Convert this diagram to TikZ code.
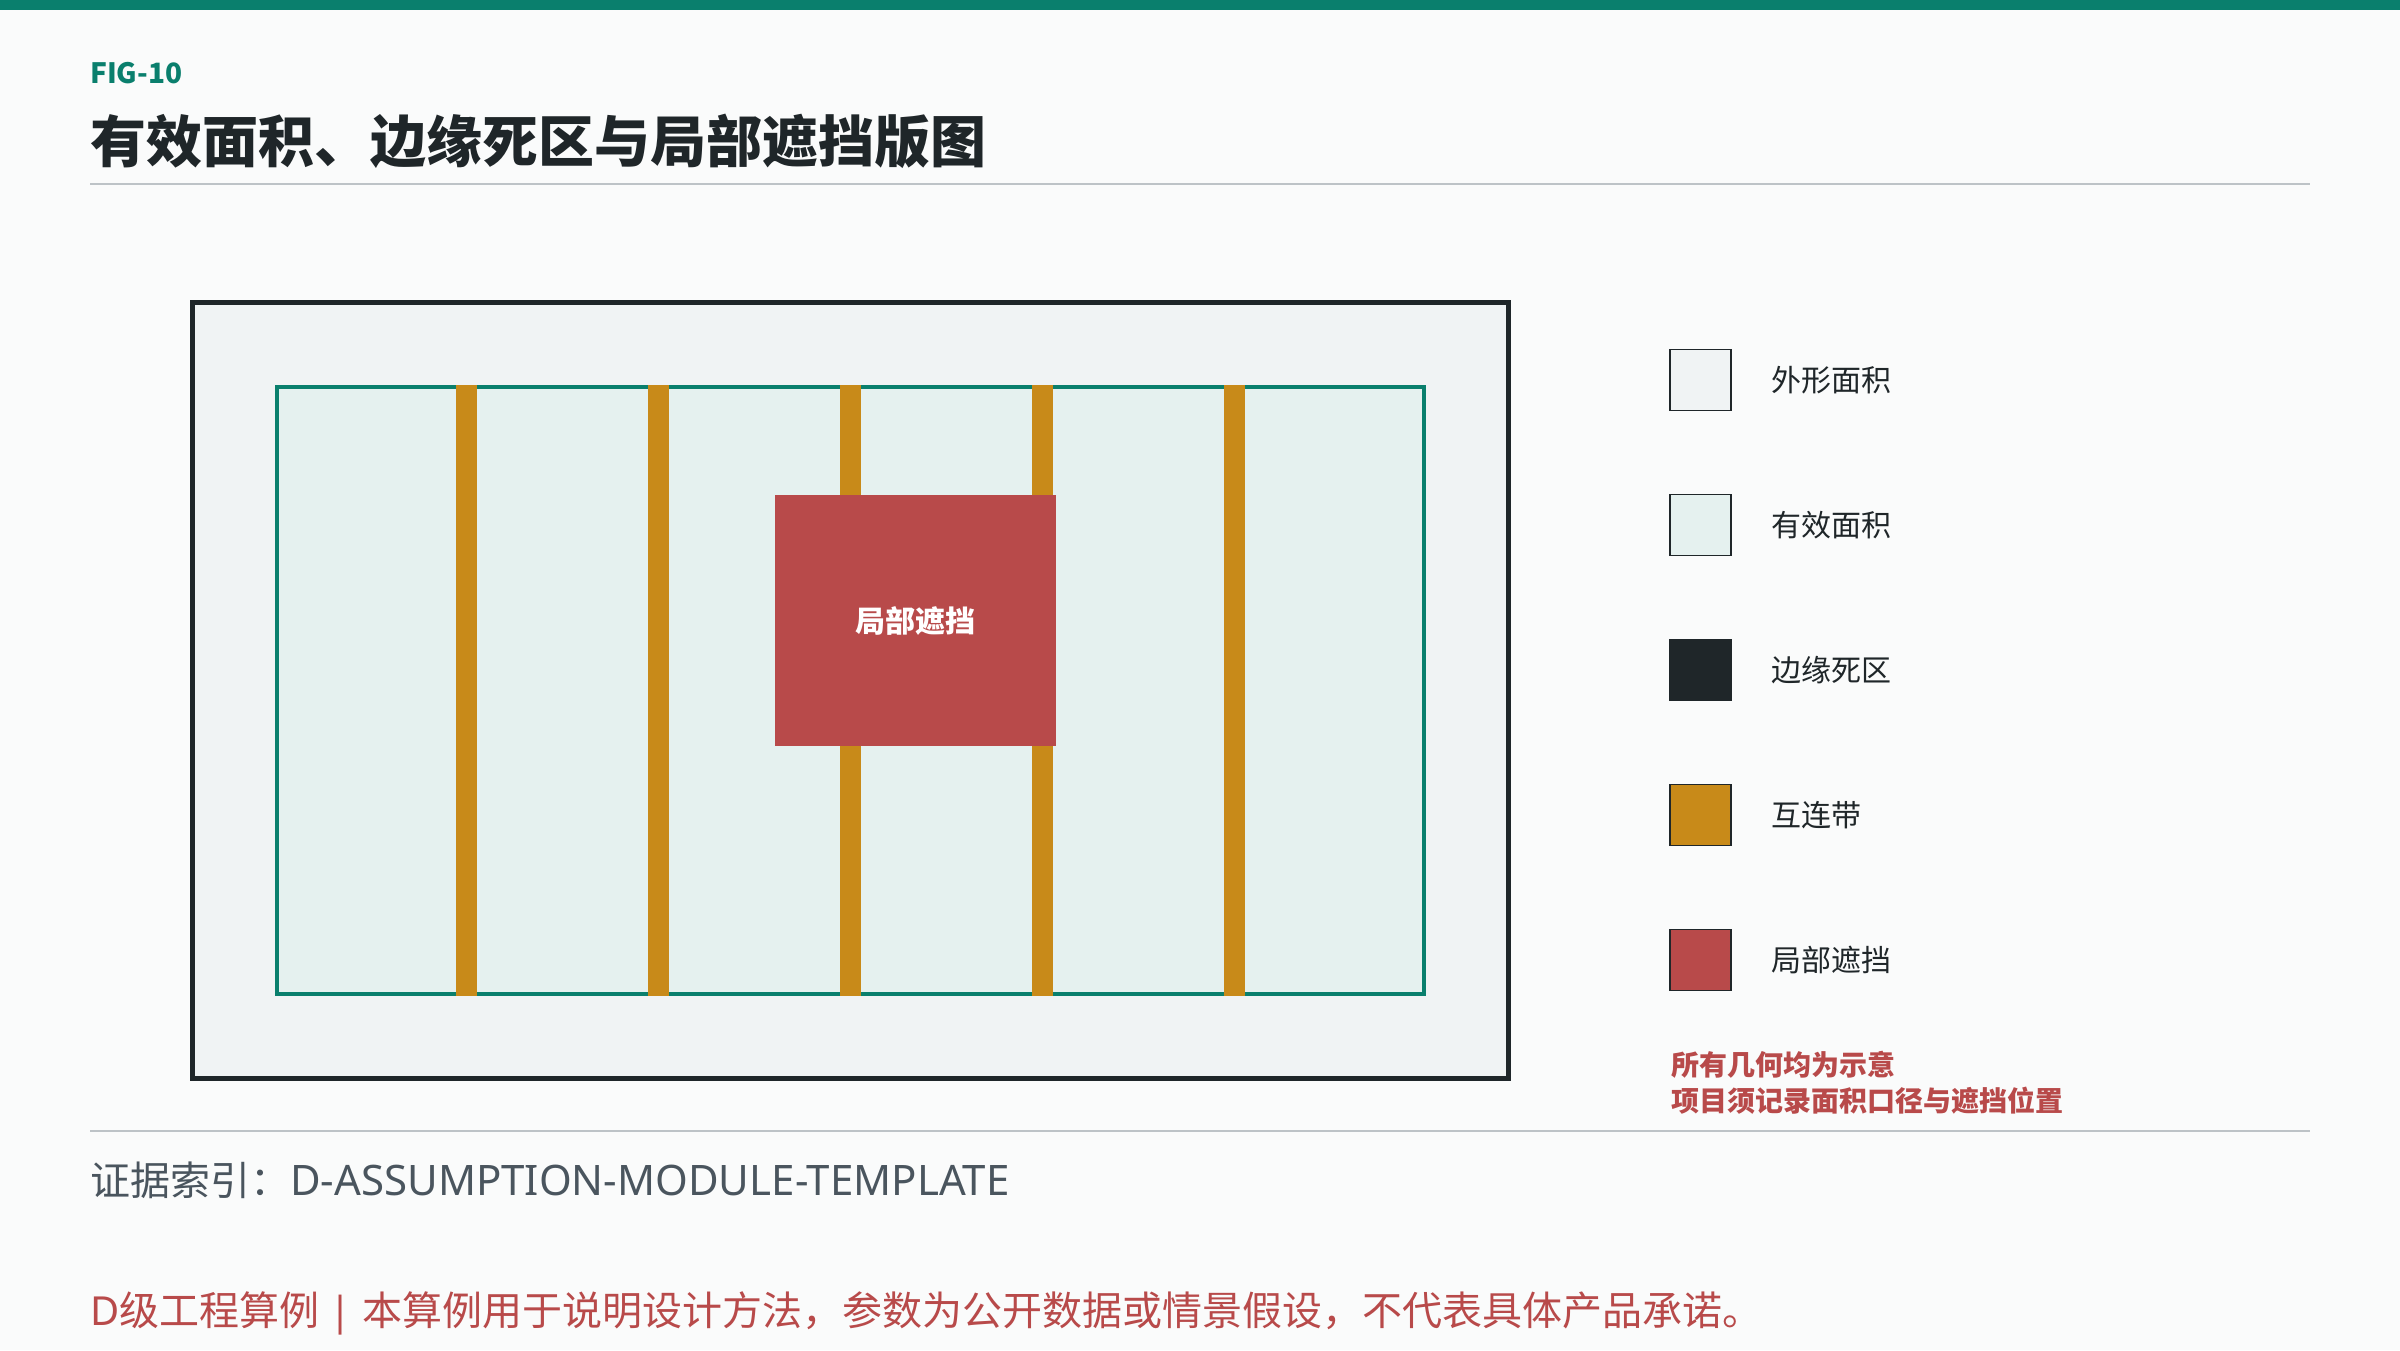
\documentclass[tikz,border=0pt]{standalone}
\usepackage{fontspec}
\setmainfont{Noto Sans CJK SC}
\newfontfamily\latinsans{Noto Sans}
\usepackage{xcolor}
\usepackage{tikz}
\usetikzlibrary{positioning}
\definecolor{pagebg}{RGB}{250,251,251}
\definecolor{brandteal}{RGB}{10,127,109}
\definecolor{inkdark}{RGB}{31,38,41}
\definecolor{rulegray}{RGB}{189,195,199}
\definecolor{outerfill}{RGB}{240,243,244}
\definecolor{activefill}{RGB}{229,241,239}
\definecolor{ribbongold}{RGB}{200,138,25}
\definecolor{shadered}{RGB}{184,74,74}
\definecolor{notegray}{RGB}{74,85,94}

\begin{document}
\begin{tikzpicture}[x=1pt, y=-1pt,
    legendbox/.style={draw=inkdark, line width=1.5pt, minimum width=61pt, minimum height=61pt, inner sep=0pt},
    legendlabel/.style={anchor=west, inner sep=0pt, text=inkdark, font=\fontsize{30}{36}\selectfont}]
    % Page and header
    \fill[pagebg] (0,0) rectangle (2400,1350);
    \fill[brandteal] (0,0) rectangle (2400,10);
    \node[anchor=base west, inner sep=0pt, text=brandteal, font=\fontsize{28}{32}\selectfont\bfseries] (figtag) at (90,83) {FIG-10};
    \node[anchor=base west, inner sep=0pt, text=inkdark, font=\fontsize{56}{68}\selectfont\bfseries] (title) at (90,162) {有效面积、边缘死区与局部遮挡版图};
    \draw[rulegray, line width=2.5pt] (90,184) -- (2310,184);

    % Module outline and active area
    \filldraw[fill=outerfill, draw=inkdark, line width=5pt] (192.5,302.5) rectangle (1508.5,1078.5);
    \filldraw[fill=activefill, draw=brandteal, line width=4pt] (277,387) rectangle (1424,994);

    % Interconnect ribbons
    \foreach \k in {1,...,5}
        \fill[ribbongold] ({275+\k*191.83-10.5},385) rectangle ({275+\k*191.83+10.5},996);

    % Partial shading
    \fill[shadered] (775,495) rectangle (1056,746);
    \node[text=white, font=\fontsize{30}{36}\selectfont\bfseries] (shadelabel) at (915.5,621) {局部遮挡};

    % Legend
    \node[legendbox, fill=outerfill] (keyouter) at (1700.5,380) {};
    \node[legendlabel, right=40pt of keyouter] (keyouterlabel) {外形面积};
    \node[legendbox, fill=activefill] (keyactive) at (1700.5,525) {};
    \node[legendlabel, right=40pt of keyactive] (keyactivelabel) {有效面积};
    \node[legendbox, fill=inkdark] (keydead) at (1700.5,670) {};
    \node[legendlabel, right=40pt of keydead] (keydeadlabel) {边缘死区};
    \node[legendbox, fill=ribbongold] (keyribbon) at (1700.5,815) {};
    \node[legendlabel, right=40pt of keyribbon] (keyribbonlabel) {互连带};
    \node[legendbox, fill=shadered] (keyshade) at (1700.5,960) {};
    \node[legendlabel, right=40pt of keyshade] (keyshadelabel) {局部遮挡};

    \node[anchor=west, inner sep=0pt, text=shadered, font=\fontsize{28}{34}\selectfont\bfseries] (noteone) at (1671,1065) {所有几何均为示意};
    \node[anchor=west, inner sep=0pt, text=shadered, font=\fontsize{28}{34}\selectfont\bfseries] (notetwo) at (1671,1101) {项目须记录面积口径与遮挡位置};

    % Footer
    \draw[rulegray, line width=2.5pt] (90,1131) -- (2310,1131);
    \node[anchor=west, inner sep=0pt, text=notegray, font=\fontsize{40}{48}\selectfont] (evidence) at (90,1180) {证据索引：{\latinsans\fontsize{42}{48}\selectfont D-ASSUMPTION-MODULE-TEMPLATE}};
    \node[anchor=west, inner sep=0pt, text=shadered, font=\fontsize{40}{48}\selectfont] (disclaimer) at (90,1313) {{\latinsans D}级工程算例{\latinsans\ | }本算例用于说明设计方法，参数为公开数据或情景假设，不代表具体产品承诺。};
\end{tikzpicture}
\end{document}
